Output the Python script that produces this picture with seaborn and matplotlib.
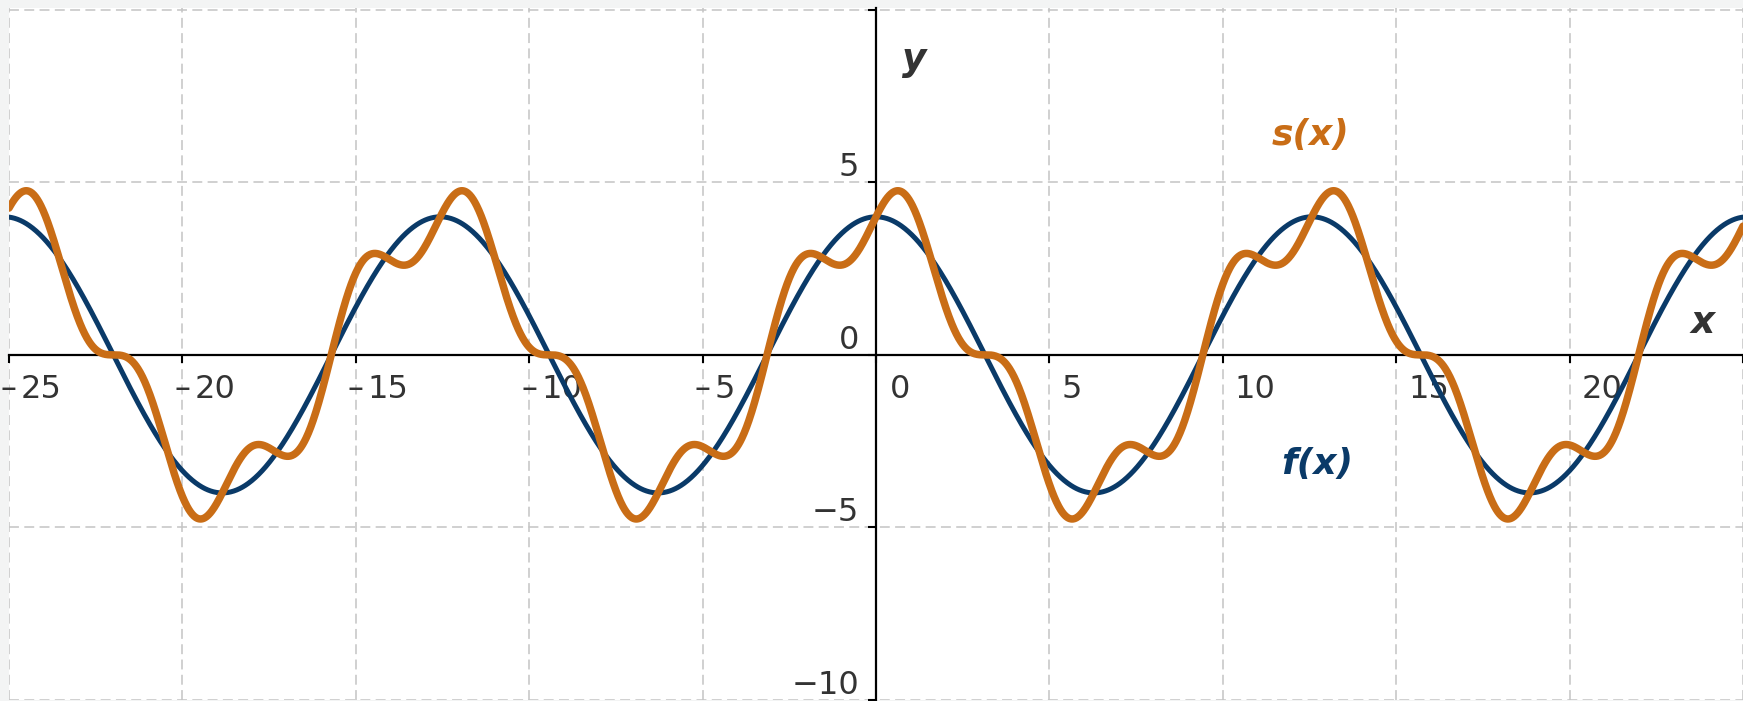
import numpy as np
import pandas as pd
import matplotlib
matplotlib.use("Agg")
import matplotlib.pyplot as plt
import seaborn as sns

# curves: f(x) = 4 cos(x/2), s(x) = f(x) + sin(2x)
f_amp = [4.0]
f_freq = [0.5]
s_extra_amp = [1.0]
s_extra_freq = [2.0]

x_ticks = [-25, -20, -15, -10, -5, 0, 5, 10, 15, 20, 25]
y_ticks = [-10, -5, 0, 5, 10]
x_labels = [-25, -20, -15, -10, -5, 0, 5, 10, 15, 20]
y_labels = [-10, -5, 0, 5]
x_lim = (-25, 25)
y_lim = (-10, 10.05)

navy = "#0a3a68"
orange = "#c96d16"
ink = "#333333"

xs = np.linspace(x_lim[0], x_lim[1], 3001)
f_vals = sum(a * np.cos(w * xs) for a, w in zip(f_amp, f_freq))
s_vals = f_vals + sum(a * np.sin(w * xs) for a, w in zip(s_extra_amp, s_extra_freq))
df_f = pd.DataFrame({"x": xs, "y": f_vals})
df_s = pd.DataFrame({"x": xs, "y": s_vals})

sns.set_style("white")
plt.rcParams["font.family"] = ["DejaVu Sans"]

fig = plt.figure(figsize=(17.43, 7.01), dpi=100, facecolor="#f3f4f4")
ax = fig.add_axes([9 / 1743, 1 / 701, 1734 / 1743, 692 / 701])
ax.set_facecolor("white")

sns.lineplot(data=df_f, x="x", y="y", color=navy, lw=3.6, ax=ax, zorder=3, sort=False)
sns.lineplot(data=df_s, x="x", y="y", color=orange, lw=5.4, ax=ax, zorder=4, sort=False)

ax.set_xlim(*x_lim)
ax.set_ylim(*y_lim)
ax.set_xticks(x_ticks)
ax.set_yticks(y_ticks)
ax.grid(True, color="#c4c4c4", lw=1.1, ls=(0, (6.5, 3.5)), zorder=0)
ax.set_axisbelow(True)
ax.set_xlabel("")
ax.set_ylabel("")

for side in ["top", "right"]:
    ax.spines[side].set_visible(False)
for side in ["left", "bottom"]:
    ax.spines[side].set_position("zero")
    ax.spines[side].set_color("black")
    ax.spines[side].set_linewidth(1.6)
    ax.spines[side].set_zorder(2)
ax.tick_params(direction="out", length=6, width=1.5, color="black",
               labelbottom=False, labelleft=False, bottom=True, left=True)

lab = dict(fontsize=23, color=ink, textcoords="offset pixels",
           va="baseline", annotation_clip=False, zorder=1)
for t in x_labels:
    dx = 14 if t == 0 else 12
    ax.annotate(str(abs(t)), xy=(t, 0), xytext=(dx, -43), ha="left", **lab)
    if t < 0:
        ax.annotate("\u2013", xy=(t, 0), xytext=(8, -43), ha="right", **lab)
for t in y_labels:
    txt = str(t).replace("-", "\u2212")
    ax.annotate(txt, xy=(0, t), xytext=(-17, 6), ha="right", **lab)

ax.text(0.75, 8.25, "y", fontsize=27, fontweight="bold", style="italic", color=ink)
ax.text(23.5, 0.62, "x", fontsize=27, fontweight="bold", style="italic", color=ink)
ax.text(11.42, 6.08, "s(x)", fontsize=26, fontweight="bold", style="italic", color=orange)
ax.text(11.68, -3.46, "f(x)", fontsize=26, fontweight="bold", style="italic", color=navy)

plt.savefig("out.png", dpi=100, facecolor=fig.get_facecolor())
